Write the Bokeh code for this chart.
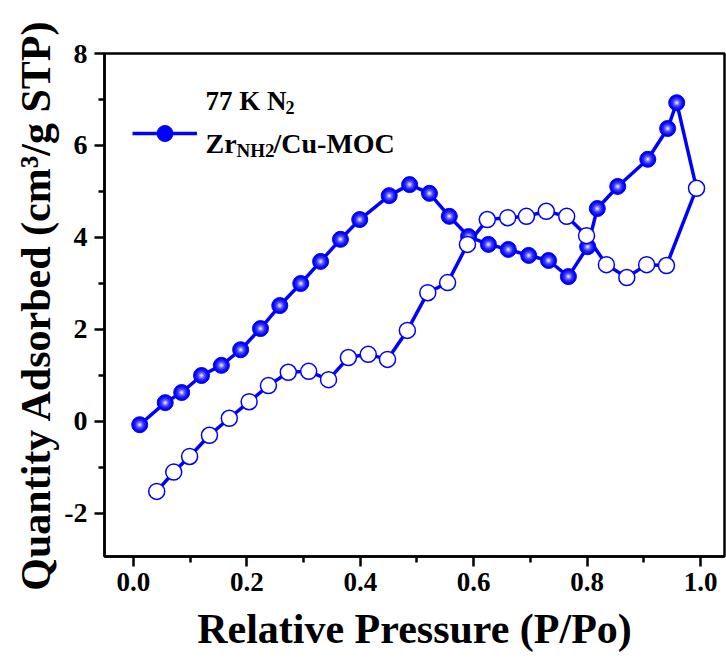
from bokeh.plotting import figure
from bokeh.models import Range1d, Label, Legend, LegendItem, FixedTicker, PrintfTickFormatter
from bokeh.embed import file_html
from bokeh.resources import INLINE

# ---- data ----
ads_p = [0.011, 0.056, 0.085, 0.120, 0.155, 0.189, 0.224, 0.258, 0.295, 0.330,
         0.365, 0.399, 0.451, 0.487, 0.522, 0.557, 0.591, 0.626, 0.661, 0.697,
         0.732, 0.767, 0.801, 0.818, 0.854, 0.907, 0.942, 0.958]
ads_q = [-0.07, 0.41, 0.63, 1.00, 1.22, 1.56, 2.02, 2.52, 3.00, 3.48,
         3.96, 4.39, 4.91, 5.15, 4.96, 4.46, 4.02, 3.85, 3.74, 3.61,
         3.50, 3.15, 3.80, 4.63, 5.11, 5.70, 6.37, 6.93]
des_p = [0.993, 0.940, 0.905, 0.870, 0.834, 0.799, 0.764, 0.728, 0.693, 0.660,
         0.624, 0.589, 0.554, 0.519, 0.483, 0.448, 0.414, 0.379, 0.344, 0.309,
         0.273, 0.238, 0.204, 0.169, 0.134, 0.099, 0.071, 0.041]
des_q = [5.07, 3.39, 3.41, 3.13, 3.41, 4.04, 4.46, 4.57, 4.46, 4.43,
         4.39, 3.85, 3.02, 2.80, 1.98, 1.35, 1.46, 1.39, 0.91, 1.09,
         1.07, 0.78, 0.43, 0.07, -0.30, -0.76, -1.10, -1.52]
x_ticks = [0.0, 0.2, 0.4, 0.6, 0.8, 1.0]
y_ticks = [-2, 0, 2, 4, 6, 8]
x_label = "Relative Pressure (P/Po)"
y_label = "Quantity Adsorbed (cm\u00b3/g STP)"
note_main, note_sub = "77 K N", "2"
series_a, series_sub, series_b = "Zr", "NH2", "/Cu-MOC"

FONT = "Liberation Serif"
BLUE = "#0000FF"

p = figure(width=726, height=666, output_backend="svg", toolbar_location=None,
           x_range=Range1d(-0.0511, 1.0423), y_range=Range1d(-2.935, 8.0),
           min_border_left=104, min_border_right=2, min_border_top=53,
           min_border_bottom=110)
p.grid.visible = False
p.background_fill_color = "white"
p.border_fill_color = "white"
p.outline_line_color = "black"
p.outline_line_width = 2.5
p.outline_line_alpha = 1.0

x_minor = [(a + b) / 2 for a, b in zip(x_ticks[:-1], x_ticks[1:])]
y_minor = [(a + b) / 2 for a, b in zip(y_ticks[:-1], y_ticks[1:])]
p.xaxis.ticker = FixedTicker(ticks=x_ticks, minor_ticks=x_minor)
p.yaxis.ticker = FixedTicker(ticks=y_ticks, minor_ticks=y_minor)
p.xaxis.formatter = PrintfTickFormatter(format="%.1f")
p.yaxis.formatter = PrintfTickFormatter(format="%d")

for ax in (p.xaxis, p.yaxis):
    ax.axis_line_width = 2.5
    ax.axis_line_color = "black"
    ax.major_tick_out = 10
    ax.major_tick_in = 0
    ax.minor_tick_out = 6
    ax.minor_tick_in = 0
    ax.major_tick_line_width = 2.5
    ax.minor_tick_line_width = 2.5
    ax.major_tick_line_color = "black"
    ax.minor_tick_line_color = "black"
    ax.major_label_text_font = FONT
    ax.major_label_text_font_style = "bold"
    ax.major_label_text_color = "black"
    ax.axis_label_text_font = FONT
    ax.axis_label_text_font_style = "bold"
    ax.axis_label_text_color = "black"
    ax.axis_label_text_font_size = "42px"

p.xaxis.axis_label = x_label
p.yaxis.axis_label = y_label
p.xaxis.major_label_text_font_size = "27px"
p.yaxis.major_label_text_font_size = "28px"
p.xaxis.major_label_standoff = 6
p.yaxis.major_label_standoff = 7
p.xaxis.axis_label_standoff = 12
p.yaxis.axis_label_standoff = 2

# connecting line (adsorption then desorption)
loop_p = ads_p + des_p
loop_q = ads_q + des_q
r_line = p.line(loop_p, loop_q, line_color=BLUE, line_width=3.5)

# filled "sphere" markers for adsorption
layers = [(16, BLUE), (12, "#2020ff"), (8, "#5050ff"), (5, "#9090ff"), (2.5, "#e0e0ff")]
sphere_rs = []
for size, col in layers:
    sphere_rs.append(p.scatter(ads_p, ads_q, size=size, fill_color=col,
                               line_color=None if size < 16 else BLUE, line_width=1))

# open markers for desorption
p.scatter(des_p, des_q, size=16, fill_color="white", line_color=BLUE, line_width=1.5)

legend = Legend(items=[LegendItem(label=" ", renderers=[r_line, sphere_rs[0]])],
                location=(28, 403), glyph_width=65, glyph_height=40,
                label_height=16, label_standoff=0, label_text_font_size="4px",
                padding=0, margin=0, spacing=0, border_line_alpha=0,
                background_fill_alpha=0)
p.add_layout(legend, "center")

def lab(text, x, y, size):
    p.add_layout(Label(x=x, y=y, x_units="screen", y_units="screen", text=text,
                       text_font=FONT, text_font_style="bold",
                       text_font_size=size, text_color="black",
                       text_baseline="alphabetic", text_align="left"))

lab(note_main, 101, 456, "27px")
lab(note_sub, 181, 449, "18px")
lab(series_a, 101, 413, "28px")
lab(series_sub, 132, 406, "19px")
lab(series_b, 169, 413, "28px")

open("out.html", "w").write(file_html(p, INLINE))
